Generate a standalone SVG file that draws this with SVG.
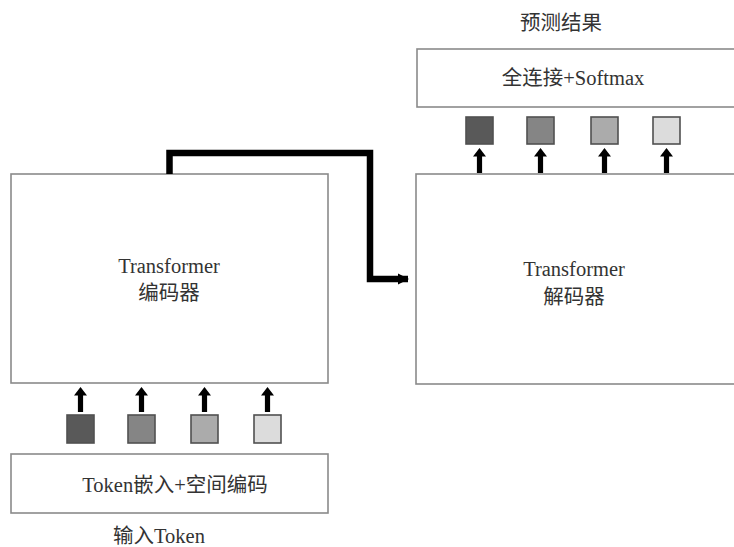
<svg xmlns="http://www.w3.org/2000/svg" xmlns:xlink="http://www.w3.org/1999/xlink" width="734" height="547" viewBox="0 0 734 547">
<style>
.box{fill:#fff;stroke:#8a8a8a;stroke-width:1.6}
.sq{stroke:#505050;stroke-width:1.6}
.t{font-family:"Liberation Serif","Noto Sans CJK SC",serif;font-size:20.5px;fill:#333;text-anchor:middle}
.conn{fill:none;stroke:#000;stroke-width:6.5;stroke-linejoin:miter}
</style>
<defs>
<marker id="ah" markerUnits="userSpaceOnUse" markerWidth="13" markerHeight="13" refX="10" refY="6.5" orient="auto">
<path d="M0,1 L11,6.5 L0,12 Z" fill="#000"/>
</marker>
<path id="up" d="M0,0 L6.5,8.5 L2.6,8.5 L2.6,25 L-2.6,25 L-2.6,8.5 L-6.5,8.5 Z" fill="#000"/>
</defs>
<rect width="734" height="547" fill="#fff"/>
<g id="encoder">
<rect class="box" x="11" y="174" width="317" height="209"/>
<text class="t" x="169" y="273">Transformer</text>
<text class="t" x="169" y="300">编码器</text>
</g>
<g id="decoder">
<rect class="box" x="416" y="174" width="330" height="210"/>
<text class="t" x="574" y="276">Transformer</text>
<text class="t" x="574" y="304">解码器</text>
</g>
<g id="fc">
<rect class="box" x="417" y="49" width="330" height="58"/>
<text class="t" x="573" y="85">全连接+Softmax</text>
</g>
<g id="embed">
<rect class="box" x="11" y="454" width="317" height="59"/>
<text class="t" x="175" y="492">Token嵌入+空间编码</text>
</g>
<g id="label-out">
<text class="t" x="561" y="30">预测结果</text>
</g>
<g id="label-in">
<text class="t" x="159" y="543">输入Token</text>
</g>
<g id="out-tokens">
<rect class="sq" x="466" y="117" width="27" height="27" fill="#595959"/>
<rect class="sq" x="527" y="117" width="27" height="27" fill="#858585"/>
<rect class="sq" x="591" y="117" width="27" height="27" fill="#ababab"/>
<rect class="sq" x="653" y="117" width="27" height="27" fill="#dcdcdc"/>
</g>
<g id="in-tokens">
<rect class="sq" x="67" y="415" width="27" height="28" fill="#595959"/>
<rect class="sq" x="128" y="415" width="27" height="28" fill="#858585"/>
<rect class="sq" x="191" y="415" width="27" height="28" fill="#ababab"/>
<rect class="sq" x="254" y="415" width="27" height="28" fill="#dcdcdc"/>
</g>
<g id="connectors">
<path class="conn" d="M169.5,174 V153 H370 V279 H408" marker-end="url(#ah)"/>
<use xlink:href="#up" x="479.5" y="148"/>
<use xlink:href="#up" x="540.5" y="148"/>
<use xlink:href="#up" x="604.5" y="148"/>
<use xlink:href="#up" x="666.5" y="148"/>
<use xlink:href="#up" x="80.5" y="387"/>
<use xlink:href="#up" x="141.5" y="387"/>
<use xlink:href="#up" x="204.5" y="387"/>
<use xlink:href="#up" x="267.5" y="387"/>
</g>
</svg>
